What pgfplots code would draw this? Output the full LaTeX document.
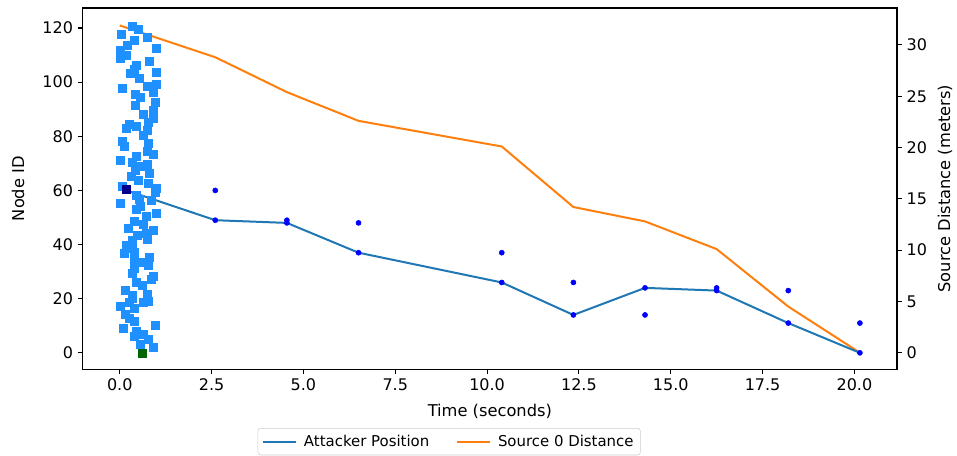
\documentclass[border=0pt]{standalone}
\usepackage{fontspec}
\setmainfont{DejaVu Sans}
\usepackage{pgfplots}
\pgfplotsset{compat=1.18}
\definecolor{tabblue}{HTML}{1F77B4}
\definecolor{taborange}{HTML}{FF7F0E}
\definecolor{dodger}{HTML}{1E90FF}
\definecolor{navysq}{HTML}{00008B}
\definecolor{dkgreen}{HTML}{006400}
\definecolor{dotblue}{HTML}{0000FF}
\begin{document}
\begin{tikzpicture}
\path[use as bounding box] (-62pt,-64.3pt) rectangle (655.7pt,277pt);
\pgfplotsset{
  base/.style={
    scale only axis, width=610.7pt, height=271pt,
    xmin=-1.01, xmax=21.16,
    tick align=outside, major tick length=3.7pt,
    every tick/.style={black, line width=0.8pt},
    axis line style={line width=0.8pt},
    /pgf/number format/assume math mode=true,
    tick label style={font=\fontsize{12pt}{14pt}\selectfont},
    label style={font=\fontsize{12.2pt}{14pt}\selectfont},
    clip=false,
  }
}
\begin{axis}[base,
  ymin=-1.62, ymax=33.6,
  axis y line*=right, axis x line=none, xtick=\empty,
  ytick={0,5,10,15,20,25,30},
  ylabel={Source Distance (meters)},
  ylabel style={at={(axis description cs:1.059,0.5)}, anchor=center},
]
\addplot[taborange, line width=1.5pt] coordinates {
(0,31.9) (2.6,28.8) (4.55,25.4) (6.5,22.6) (10.4,20.1) (12.35,14.2) (14.3,12.8) (16.25,10.1) (18.2,4.5) (20.15,0)
};
\end{axis}
\begin{axis}[base,
  ymin=-6.1, ymax=127.4,
  xtick pos=left, ytick pos=left,
  xtick={0,2.5,5,7.5,10,12.5,15,17.5,20},
  xticklabel style={/pgf/number format/.cd, fixed, fixed zerofill, precision=1},
  ytick={0,20,40,60,80,100,120},
  xlabel={Time (seconds)},
  xlabel style={at={(axis description cs:0.5,-0.1155)}, anchor=center},
  ylabel={Node ID},
  ylabel style={at={(axis description cs:-0.0794,0.5)}, anchor=center},
  legend columns=2,
  legend style={at={(0.45,-0.1624)}, anchor=north, draw=black!20, rounded corners=2pt,
    font=\fontsize{11.2pt}{13pt}\selectfont, inner xsep=3pt, inner ysep=3pt,
    /tikz/every odd column/.append style={column sep=3pt},
    /tikz/every even column/.append style={column sep=18pt}},
  legend image code/.code={\draw[#1] (0pt,0pt) -- (25pt,0pt);},
]
\addplot[tabblue, line width=1.5pt] coordinates {
(0.19,60) (2.6,49) (4.55,48) (6.5,37) (10.4,26) (12.35,14) (14.3,24) (16.25,23) (18.2,11) (20.15,0)
};
\addlegendentry{Attacker Position}
\addplot[only marks, mark=*, mark size=1.9pt, dotblue, forget plot] coordinates {
(2.6,60) (2.6,49) (4.55,49) (4.55,48) (6.5,48) (6.5,37) (10.4,37) (10.4,26) (12.35,26) (12.35,14)
(14.3,24) (14.3,14) (16.25,24) (16.25,23) (18.2,23) (18.2,11) (20.15,11) (20.15,0)
};
\addplot[only marks, mark=square*, mark size=3pt, dodger, forget plot] coordinates {
(0.35,120.7) (0.51,119.6) (0.03,117.7) (0.74,116.5) (0.39,115.6) (0.21,113.7) (0.98,112.5) (0.01,111.6)
(0.17,109.8) (0.0,108.8) (0.81,107.6) (0.46,106.3) (0.39,104.8) (0.99,103.8) (0.28,103.3)
(0.54,101.3) (0.74,98.6) (0.98,99.4) (0.07,97.6) (0.9,96.3) (0.42,95.5) (0.57,94.5) (0.97,92.4)
(0.42,91.4) (0.9,89.6) (0.65,88.3) (0.9,86.5) (0.78,85.3) (0.26,84.6) (0.46,83.7) (0.17,82.8) (0.74,82.2)
(0.63,80.2) (0.08,78.1) (0.78,77.5) (0.13,76.3) (0.74,74.4) (0.9,73.4) (0.45,72.6) (0.0,71.3)
(0.33,70.4) (0.76,69.5) (0.57,68.9) (0.42,67.3) (0.8,66.4) (0.3,65.2) (0.51,63.6) (0.78,62.6)
(0.07,61.5) (1.0,60.7)
(0.96,59.4) (0.46,58.2) (0.01,55.4) (0.87,56.4) (0.54,56.7) (0.46,53.2) (0.56,54.2) (0.99,51.5)
(0.72,50.3) (0.39,48.7) (0.65,47.4) (0.22,46.2) (0.92,45.3) (0.72,44.3) (0.48,43.4) (0.74,42.1)
(0.35,41.6) (0.17,39.7) (0.33,40.4)
(0.17,38.7) (0.12,36.8) (0.39,37.1) (0.81,35.4) (0.39,34.4) (0.63,33.4) (0.78,32.3) (0.39,31.3)
(0.35,29.5) (0.92,28.2) (0.87,27.2) (0.46,26) (0.6,25.1) (0.15,23.3) (0.74,21.8) (0.35,21.1)
(0.33,20.2) (0.78,19)
(0.0,17.3) (0.26,18.8) (0.39,16.4) (0.63,18.5) (0.15,14.3) (0.26,12.7) (0.39,11.5) (0.97,10.2)
(0.1,9) (0.45,8.1) (0.65,6.9) (0.39,6.2) (0.78,5) (0.57,3.2) (0.9,2)
};
\addplot[only marks, mark=square*, mark size=3pt, navysq, forget plot] coordinates {(0.19,60.3)};
\addplot[only marks, mark=square*, mark size=3pt, dkgreen, forget plot] coordinates {(0.62,0)};
\addlegendimage{taborange, line width=1.5pt}
\addlegendentry{Source 0 Distance}
\end{axis}
\end{tikzpicture}
\end{document}
